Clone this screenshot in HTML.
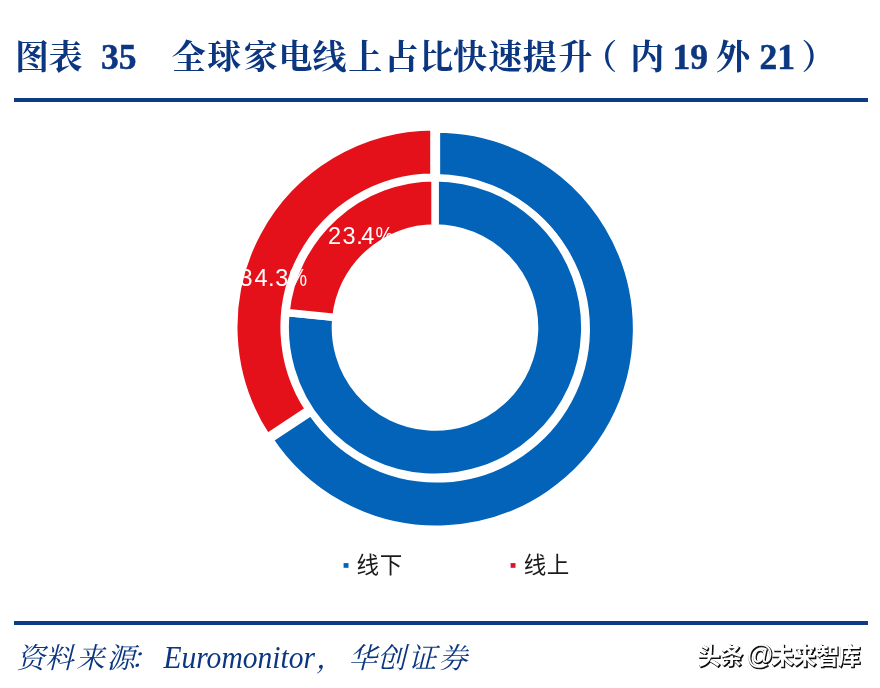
<!DOCTYPE html>
<html lang="zh-CN">
<head>
<meta charset="utf-8">
<title>图表 35 全球家电线上占比快速提升（内 19 外 21）</title>
<style>
html,body{margin:0;padding:0;background:#fff;}
body{width:880px;height:688px;overflow:hidden;font-family:"Liberation Sans",sans-serif;}
svg{display:block;will-change:transform;}
.num{font-family:"Liberation Serif",serif;font-weight:bold;font-size:35.5px;fill:#0c3780;stroke:#0c3780;stroke-width:.5px;}
.src{font-family:"Liberation Serif",serif;font-style:italic;font-size:30.5px;fill:#0c3780;}
.lab{font-family:"Liberation Sans",sans-serif;font-size:23.5px;fill:#fff;}
.at{font-family:"Liberation Sans",sans-serif;font-size:27px;}
.ttl{font-family:"Liberation Serif","Noto Serif CJK SC",serif;font-weight:bold;font-size:34px;fill:#0c3780;}
.leg{font-family:"Liberation Sans","Noto Sans CJK SC",sans-serif;font-size:22.5px;fill:#1a1a1a;}
.srccjk{font-family:"Liberation Serif","Noto Serif CJK SC",serif;font-style:italic;font-size:28.5px;fill:#0c3780;}
.wm{font-family:"Liberation Sans","Noto Sans CJK SC",sans-serif;font-weight:bold;font-size:22.5px;}
</style>
</head>
<body>
<svg width="880" height="688" viewBox="0 0 880 688" role="img" aria-label="图表 35 全球家电线上占比快速提升（内 19 外 21）">
<title>图表 35 全球家电线上占比快速提升（内 19 外 21）</title>
<desc>双层环形图：内环（2019）线下 76.6%、线上 23.4%；外环（2021）线下 65.7%、线上 34.3%。资料来源：Euromonitor，华创证券</desc>
<rect width="880" height="688" fill="#fff"/>

<!-- title -->
<text class="ttl" y="68.5"><tspan x="14.9 48.6">图表</tspan><tspan x="171.8 207.2 243.7 278.4 312.4 348.2 384.4 419.2 453 488.3 522.8 558.5 583.3">全球家电线上占比快速提升（</tspan><tspan x="630.2">内</tspan><tspan x="716.1">外</tspan><tspan x="801.4">）</tspan></text>
<text class="num" x="101" y="68.8">35</text>
<text class="num" x="672.4" y="68.6">19</text>
<text class="num" x="759.6" y="68.6">21</text>
<rect x="14" y="98" width="854" height="4" fill="#0e3b86"/>

<!-- doughnut chart -->
<g stroke="#fff" stroke-width="7.4" stroke-linejoin="miter">
<path fill="#0263b9" d="M436.45 129.00A200.10 200.10 0 1 1 269.55 439.48L311.51 411.74A149.80 149.80 0 1 0 436.45 179.30Z"/>
<path fill="#e5111a" d="M267.00 437.28A200.10 200.10 0 0 1 433.90 126.80L433.90 177.10A149.80 149.80 0 0 0 308.96 409.54Z"/>
<path fill="#0263b9" d="M435.00 177.70A149.80 149.80 0 1 1 285.96 312.47L335.90 317.50A99.60 99.60 0 1 0 435.00 227.90Z"/>
<path fill="#e5111a" d="M285.96 312.47A149.80 149.80 0 0 1 435.00 177.70L435.00 227.90A99.60 99.60 0 0 0 335.90 317.50Z"/>
</g>
<text class="lab" y="243.6"><tspan x="328 342.6 356.2 361.2">23.4</tspan><tspan x="375.4" textLength="17.6" lengthAdjust="spacingAndGlyphs">%</tspan></text>
<text class="lab" y="285.9"><tspan x="239.6 254.4 267.9 275.3">34.3</tspan><tspan x="289.6" textLength="17.6" lengthAdjust="spacingAndGlyphs">%</tspan></text>

<!-- legend -->
<rect x="343.6" y="563.1" width="4.9" height="4.7" fill="#0263b9"/>
<rect x="510.6" y="563.1" width="4.9" height="4.7" fill="#dc1428"/>
<text class="leg" y="573"><tspan x="356.6 379.8">线下</tspan></text>
<text class="leg" y="573"><tspan x="523.7 546.7">线上</tspan></text>

<!-- source -->
<rect x="14" y="621" width="854" height="4" fill="#0e3b86"/>
<text class="srccjk" y="668"><tspan x="16.4 44.9 76 106.6 130">资料来源：</tspan></text>
<text class="src" x="163.4" y="667.8" textLength="151.6" lengthAdjust="spacingAndGlyphs">Euromonitor</text>
<text class="srccjk" y="668"><tspan x="316">，</tspan><tspan x="348.5 377.2 408 438.7">华创证券</tspan></text>

<!-- watermark: white text over a dark drop shadow -->
<g fill="#0a0a0a" stroke="#0a0a0a" stroke-width="1.1" stroke-linejoin="round">
<text class="wm" y="665"><tspan x="698.7 721.4">头条</tspan><tspan x="772.1 794.5 817.6 838.8">未来智库</tspan></text>
</g>
<text class="at" transform="translate(747.1 665.3)" fill="#0a0a0a" stroke="#0a0a0a" stroke-width="1.1">@</text>
<g fill="#fff" transform="translate(-.9 -.9)" aria-hidden="true">
<text class="wm" y="665"><tspan x="698.7 721.4">头条</tspan><tspan x="772.1 794.5 817.6 838.8">未来智库</tspan></text>
<text class="at" transform="translate(747.1 665.3)">@</text>
</g>
</svg>
</body>
</html>
